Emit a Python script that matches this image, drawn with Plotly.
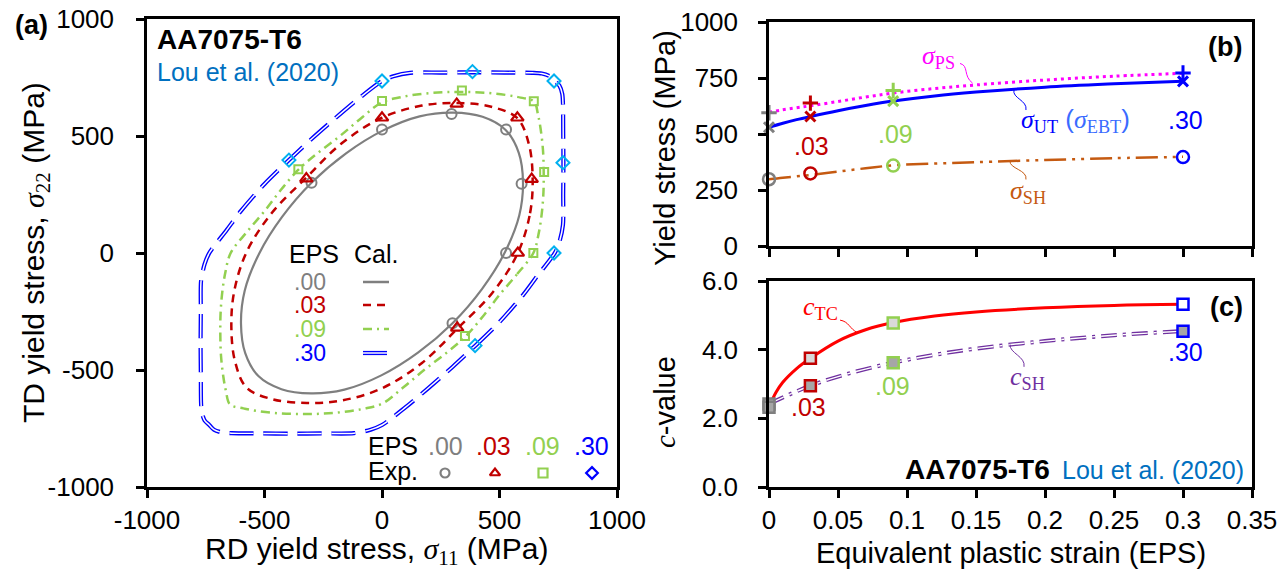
import plotly.graph_objects as go

W, H = 1288, 576

# ---------------- (a) calculated yield loci (sigma11, sigma22 in MPa) ----------------
locus_000_s11 = [523, 584, 600, 582, 526, 428, 302, 160, 3, -153, -300, -426, -523, -584, -600, -582, -526, -428,
                 -302, -160, -3, 153, 300, 426, 523]
locus_000_s22 = [3, 160, 302, 428, 526, 582, 600, 584, 523, 426, 300, 153, -3, -160, -302, -428, -526, -582,
                 -600, -584, -523, -426, -300, -153, 3]

locus_003_s11 = [578, 630, 641, 625, 576, 465, 320, 170, 0, -170, -322, -470, -578, -630, -641, -625, -576, -465,
                 -320, -170, 0, 170, 322, 470, 578]
locus_003_s22 = [0, 170, 320, 465, 576, 625, 641, 630, 578, 470, 322, 170, 0, -170, -320, -465, -576, -625,
                 -641, -630, -578, -470, -322, -170, 0]

locus_009_s11 = [500, 575, 644, 666, 680, 687, 688, 685, 675, 664, 647, 590, 530, 440, 346, 260, 170, 80, 0, -90,
                 -179, -270, -356, -430, -500, -575, -644, -666, -680, -687, -688, -685, -675, -664, -647, -590,
                 -530, -440, -346, -260, -170, -80, 0, 90, 179, 270, 356, 430, 500]
locus_009_s22 = [-179, -90, 0, 80, 170, 260, 346, 440, 530, 590, 647, 664, 675, 685, 688, 687, 680, 666, 644, 575,
                 500, 430, 356, 270, 179, 90, 0, -80, -170, -260, -346, -440, -530, -590, -647, -664,
                 -675, -685, -688, -687, -680, -666, -644, -575, -500, -430, -356, -270, -179]

locus_030_s11 = [300, 397, 500, 600, 661, 735, 755, 770, 771, 772, 771, 770, 767, 755, 735, 715, 680, 640, 520, 386,
                 250, 120, 48, 0, -98, -200, -300, -397, -500, -600, -661, -735, -755, -770, -771, -772, -771,
                 -770, -767, -755, -735, -715, -680, -640, -520, -386, -250, -120, -48, 0, 98, 200, 300]
locus_030_s22 = [-487, -396, -295, -180, -98, 0, 48, 120, 250, 386, 520, 640, 680, 715, 735, 755, 767, 770, 771, 772,
                 771, 770, 755, 735, 661, 575, 487, 396, 295, 180, 98, 0, -48, -120, -250, -386, -520,
                 -640, -680, -715, -735, -755, -767, -770, -771, -772, -771, -770, -755, -735, -661, -575, -487]

# ---------------- (a) experimental yield points ----------------
exp_000_s11 = [0, 296, 528, 594, 528, 300, -300]
exp_000_s22 = [528, 594, 528, 296, 0, -300, 300]
exp_003_s11 = [0, 318, 576, 637, 578, 320, -322]
exp_003_s22 = [578, 637, 578, 316, 0, -320, 318]
exp_009_s11 = [0, 340, 646, 690, 644, 353, -356]
exp_009_s22 = [650, 694, 648, 346, 0, -355, 358]
exp_030_s11 = [0, 385, 732, 770, 732, 396, -396]
exp_030_s22 = [735, 775, 735, 386, 0, -396, 397]

# ---------------- (b) yield stress vs EPS ----------------
eps_levels = [0.0, 0.03, 0.09, 0.30]
sig_ps_exp = [595, 638, 694, 772]
sig_ut_exp = [530, 578, 647, 735]
sig_sh_exp = [298, 324, 359, 397]

eps_fit = [0, 0.01, 0.02, 0.03, 0.05, 0.07, 0.09, 0.12, 0.15, 0.2, 0.25, 0.3]
sig_ps_fit = [597, 608, 617, 626, 645, 665, 683, 703, 719, 741, 758, 771]
sig_ut_fit = [530, 548, 564, 578, 604, 627, 647, 670, 687, 709, 724, 736]
sig_sh_fit = [298, 305, 311, 317, 332, 347, 360, 368, 374, 384, 392, 398]

# ---------------- (c) c-value vs EPS ----------------
c_tc_exp = [2.32, 3.75, 4.78, 5.32]
c_sh_exp = [2.42, 2.95, 3.62, 4.54]
eps_tc_fit = [0, 0.005, 0.01, 0.02, 0.03, 0.05, 0.07, 0.09, 0.12, 0.15, 0.2, 0.25, 0.3]
c_tc_fit = [2.32, 2.75, 3.05, 3.45, 3.75, 4.25, 4.58, 4.79, 4.98, 5.10, 5.22, 5.29, 5.32]
eps_sh_fit = [0, 0.03, 0.06, 0.09, 0.12, 0.15, 0.2, 0.25, 0.3]
c_sh_fit = [2.42, 2.95, 3.33, 3.62, 3.85, 4.03, 4.25, 4.42, 4.54]

eps_labels = ['.00', '.03', '.09', '.30']
tick_a = [-1000, -500, 0, 500, 1000]
tick_a_text = ['-1000', '-500', '0', '500', '1000']
tick_eps = [0, 0.05, 0.1, 0.15, 0.2, 0.25, 0.3, 0.35]
tick_eps_text = ['0', '0.05', '0.1', '0.15', '0.2', '0.25', '0.3', '0.35']
tick_sig = [0, 250, 500, 750, 1000]
tick_c = [0, 2, 4, 6]
tick_c_text = ['0.0', '2.0', '4.0', '6.0']

GRAY, RED, GREEN, BLUE, CYAN = '#7F7F7F', '#C00000', '#92D050', '#0000FF', '#00B0F0'
LEVEL_COLORS = [GRAY, RED, GREEN, BLUE]
MAGENTA, BROWN, BRIGHT_RED, PURPLE, REF_BLUE = '#FF00FF', '#C55A11', '#FF0000', '#7030A0', '#0070C0'
FONT = 'Liberation Sans, Arial, sans-serif'
SERIF = 'Liberation Serif'

DASH_RED = '8px,6px'
DASH_GREEN = '9px,5px,2px,5px'
DASH_BLUE = '24px,10px'
DASH_BROWN = '22px,6px,3px,6px,3px,6px'
DASH_PURPLE = '16px,6px,3px,6px'


def px(x):
    return x / W


def py(y):
    return 1 - y / H


fig = go.Figure()


def add_line(x, y, color, width, dash, xa, ya, spline=True, double=False, smoothing=1.0):
    shape = 'spline' if spline else 'linear'
    fig.add_trace(go.Scatter(x=x, y=y, mode='lines', xaxis=xa, yaxis=ya, hoverinfo='skip',
                             line=dict(color=color, width=width, dash=dash, shape=shape, smoothing=smoothing)))
    if double:
        fig.add_trace(go.Scatter(x=x, y=y, mode='lines', xaxis=xa, yaxis=ya, hoverinfo='skip',
                                 line=dict(color='white', width=width * 0.35, dash=dash, shape=shape,
                                           smoothing=smoothing)))


def add_markers(x, y, symbol, size, line_color, line_width, xa, ya, fill=None):
    fig.add_trace(go.Scatter(x=x, y=y, mode='markers', xaxis=xa, yaxis=ya, hoverinfo='skip', cliponaxis=False,
                             marker=dict(symbol=symbol, size=size, color=fill if fill is not None else line_color,
                                         line=dict(color=line_color, width=line_width))))


# ---- (a) loci and experimental points ----
add_line(locus_000_s11, locus_000_s22, GRAY, 2.2, 'solid', 'x', 'y')
add_line(locus_003_s11, locus_003_s22, RED, 2.5, DASH_RED, 'x', 'y')
add_line(locus_009_s11, locus_009_s22, GREEN, 2.5, DASH_GREEN, 'x', 'y')
add_line(locus_030_s11, locus_030_s22, BLUE, 4.2, DASH_BLUE, 'x', 'y', double=True, smoothing=0.8)

add_markers(exp_000_s11, exp_000_s22, 'circle-open', 10, GRAY, 2, 'x', 'y')
add_markers(exp_003_s11, exp_003_s22, 'triangle-up-open', 11, RED, 2.2, 'x', 'y')
add_markers(exp_009_s11, exp_009_s22, 'square-open', 8, GREEN, 2, 'x', 'y')
add_markers(exp_030_s11, exp_030_s22, 'diamond-open', 10, CYAN, 2, 'x', 'y')

# ---- (b) ----
add_line(eps_fit, sig_ps_fit, MAGENTA, 3, '3px,4px', 'x2', 'y2')
add_line(eps_fit, sig_ut_fit, BLUE, 3, 'solid', 'x2', 'y2')
add_line(eps_fit, sig_sh_fit, BROWN, 2.5, DASH_BROWN, 'x2', 'y2')
add_markers(eps_levels, sig_ps_exp, 'cross-thin', 11, LEVEL_COLORS, 3, 'x2', 'y2')
add_markers(eps_levels, sig_ut_exp, 'x-thin', 10, LEVEL_COLORS, 3, 'x2', 'y2')
add_markers(eps_levels, sig_sh_exp, 'circle-open', 12, LEVEL_COLORS, 2.5, 'x2', 'y2')

# ---- (c) ----
add_line(eps_tc_fit, c_tc_fit, BRIGHT_RED, 3, 'solid', 'x3', 'y3')
add_line(eps_sh_fit, c_sh_fit, PURPLE, 4, DASH_PURPLE, 'x3', 'y3', double=True)
add_markers(eps_levels, c_sh_exp, 'square', 11, LEVEL_COLORS, 2.5, 'x3', 'y3',
            fill=['#A6A6A6', '#A6A6A6', '#A6A6A6', '#A6A6A6'])
add_markers(eps_levels, c_tc_exp, 'square', 11, LEVEL_COLORS, 2.5, 'x3', 'y3',
            fill=['#A6A6A6', '#D9D9D9', '#D9D9D9', '#FFFFFF'])

# ---- key for (a), drawn on a page-pixel overlay axis ----
key_x = [363, 389]
add_line(key_x, [282, 282], GRAY, 2.5, 'solid', 'x4', 'y4', spline=False)
add_line(key_x, [305, 305], RED, 2.5, DASH_RED, 'x4', 'y4', spline=False)
add_line(key_x, [329, 329], GREEN, 2.5, DASH_GREEN, 'x4', 'y4', spline=False)
add_line(key_x, [353, 353], BLUE, 4.2, DASH_BLUE, 'x4', 'y4', spline=False, double=True)
key_sym = ['circle-open', 'triangle-up-open', 'square-open', 'diamond-open']
key_mx = [445, 495, 543, 592]
for k in range(4):
    add_markers([key_mx[k]], [473], key_sym[k], 9, LEVEL_COLORS[k], 2.2, 'x4', 'y4')

# ---- axes ----
axis_common = dict(showline=True, linecolor='black', linewidth=2.5, mirror=True, ticks='outside', ticklen=8,
                   tickwidth=2.5, tickcolor='black', showgrid=False, zeroline=False, automargin=False,
                   tickfont=dict(family=FONT, size=26, color='black'))

fig.update_layout(
    width=W, height=H, margin=dict(l=0, r=0, t=0, b=0, autoexpand=False),
    paper_bgcolor='white', plot_bgcolor='rgba(0,0,0,0)',
    showlegend=False,
    xaxis=dict(domain=[px(147), px(617)], range=[-1000, 1000], anchor='y', tickvals=tick_a, ticktext=tick_a_text,
               ticklabelstandoff=0, **axis_common),
    yaxis=dict(domain=[py(487), py(19)], range=[-1000, 1000], anchor='x', tickvals=tick_a, ticktext=tick_a_text,
               ticklabelstandoff=17, **axis_common),
    xaxis2=dict(domain=[px(769), px(1252)], range=[0, 0.35], anchor='y2', tickvals=tick_eps,
                showticklabels=False, **axis_common),
    yaxis2=dict(domain=[py(246), py(22)], range=[0, 1000], anchor='x2', tickvals=tick_sig,
                ticklabelstandoff=15, **axis_common),
    xaxis3=dict(domain=[px(769), px(1252)], range=[0, 0.35], anchor='y3', tickvals=tick_eps,
                ticktext=tick_eps_text, ticklabelstandoff=0, **axis_common),
    yaxis3=dict(domain=[py(487), py(281)], range=[0, 6], anchor='x3', tickvals=tick_c, ticktext=tick_c_text,
                ticklabelstandoff=15, **axis_common),
    xaxis4=dict(domain=[0, 1], range=[0, W], anchor='y4', visible=False, automargin=False),
    yaxis4=dict(domain=[0, 1], range=[H, 0], anchor='x4', visible=False, automargin=False),
)

annotations = []


def note(text, x, y, size=25, color='black', xanchor='center', yanchor='middle', angle=0, family=FONT):
    annotations.append(dict(text=text, x=px(x), y=py(y), xref='paper', yref='paper', showarrow=False,
                            xanchor=xanchor, yanchor=yanchor, textangle=angle, borderpad=0,
                            font=dict(family=family, size=size, color=color)))


def sig(sym, sub):
    return ('<span style="font-family:%s"><i>%s</i><sub>%s</sub></span>' % (SERIF, sym, sub))


# panel (a)
note('<b>(a)</b>', 32, 25, size=27)
note('<b>AA7075-T6</b>', 156, 39, size=28, xanchor='left')
note('Lou et al. (2020)', 156, 72, size=25, color=REF_BLUE, xanchor='left')
note('EPS', 314, 254)
note('Cal.', 376, 254)
for k, yy in enumerate([282, 305, 329, 353]):
    note(eps_labels[k], 310, yy, size=23, color=LEVEL_COLORS[k])
note('EPS', 367, 446, xanchor='left')
note('Exp.', 367, 471, xanchor='left')
for k, xx in enumerate([445, 493, 542, 591]):
    note(eps_labels[k], xx, 446, color=LEVEL_COLORS[k])
note('RD yield stress, ' + sig('σ', '11') + ' (MPa)', 376, 551, size=30)
note('TD yield stress, ' + sig('σ', '22') + ' (MPa)', 36, 253, size=30, angle=-90)

# panel (b)
note('<b>(b)</b>', 1225, 47, size=27)
note(sig('σ', 'PS'), 938, 57, size=26, color=MAGENTA)
note(sig('σ', 'UT') + ' <span style="color:#3A6BFF">(' + sig('σ', 'EBT') + ')</span>', 1075, 120, size=26,
     color=BLUE)
note(sig('σ', 'SH'), 1028, 192, size=26, color=BROWN)
note('.03', 811, 146, color=RED)
note('.09', 895, 134, color=GREEN)
note('.30', 1185, 120, color=BLUE)
note('Yield stress (MPa)', 665, 148, size=29, angle=-90)

# panel (c)
note('<b>(c)</b>', 1226, 307, size=27)
note(sig('c', 'TC'), 820, 308, size=26, color=BRIGHT_RED)
note(sig('c', 'SH'), 1027, 378, size=26, color=PURPLE)
note('.03', 808, 407, color=RED)
note('.09', 892, 386, color=GREEN)
note('.30', 1185, 352, color=BLUE)
note('<b>AA7075-T6</b>', 1051, 469, size=28, xanchor='right')
note('Lou et al. (2020)', 1245, 470, size=25, color=REF_BLUE, xanchor='right')
note('<span style="font-family:%s"><i>c</i></span>-value' % SERIF, 665, 402, size=29, angle=-90)
note('Equivalent plastic strain (EPS)', 1011, 553, size=29)

# leader lines from labels to curves
shapes = [
    dict(type='path', xref='x2', yref='y2', path='M0.1384,815 C0.1450,805 0.1405,760 0.1475,727',
         line=dict(color=MAGENTA, width=1)),
    dict(type='path', xref='x2', yref='y2', path='M0.1775,697 C0.1760,660 0.1875,650 0.1862,607',
         line=dict(color=BLUE, width=1)),
    dict(type='path', xref='x2', yref='y2', path='M0.1746,380 C0.1740,345 0.1875,340 0.1862,297',
         line=dict(color=BROWN, width=1)),
    dict(type='path', xref='x3', yref='y3', path='M0.0515,4.86 C0.0580,4.82 0.0585,4.60 0.0640,4.50',
         line=dict(color=BRIGHT_RED, width=1)),
    dict(type='path', xref='x3', yref='y3', path='M0.1747,4.15 C0.1740,3.90 0.1862,3.80 0.1848,3.50',
         line=dict(color=PURPLE, width=1)),
]

fig.update_layout(annotations=annotations, shapes=shapes)
fig.write_html('out.html')
